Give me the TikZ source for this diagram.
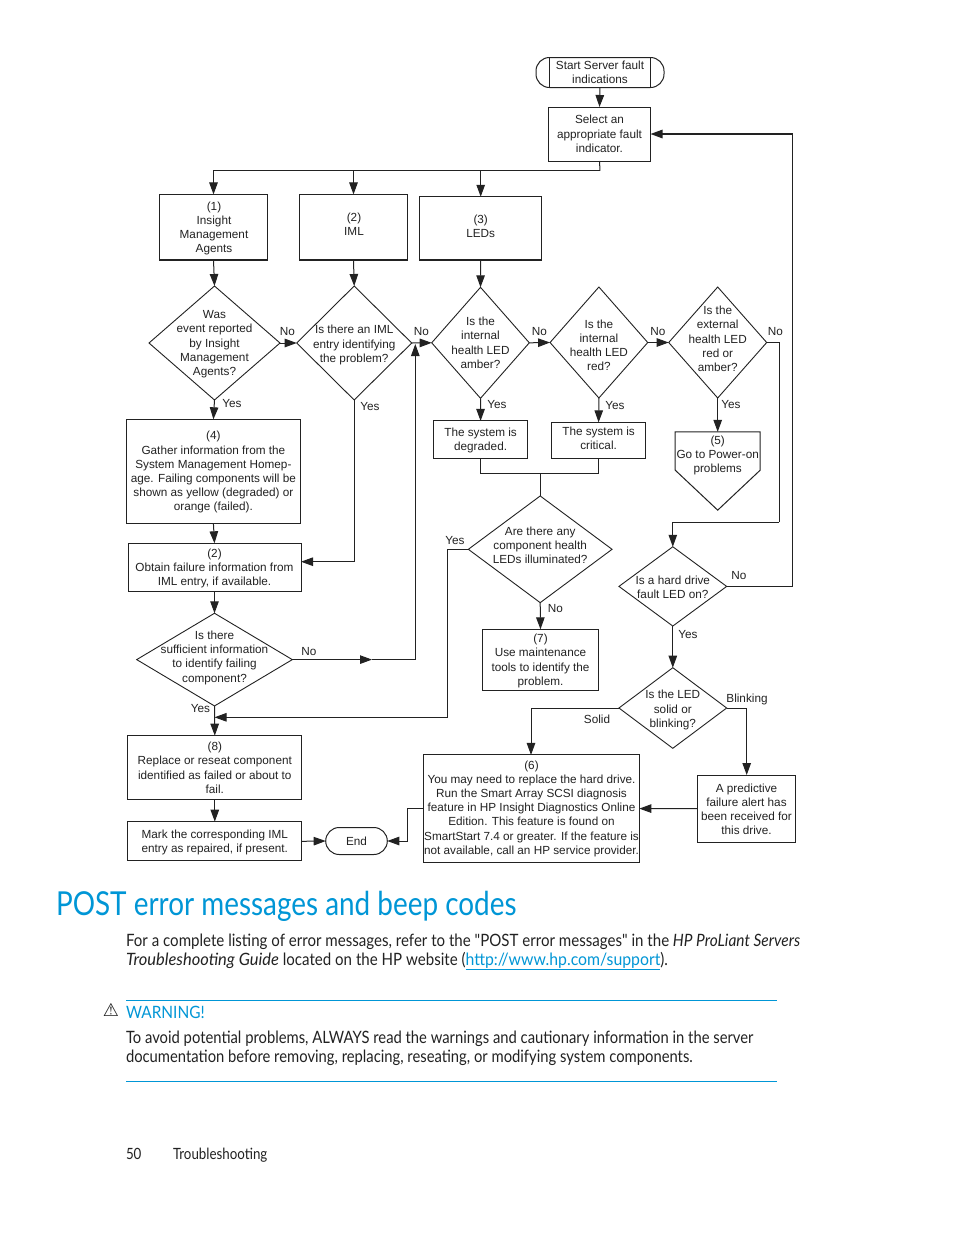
\documentclass[tikz,border=0pt]{standalone}
\usepackage{fontspec}
\usepackage{array}
\usetikzlibrary{shapes.geometric,arrows.meta,calc}
\newfontfamily\fcfont{Liberation Sans}
\newfontfamily\hpA[FakeStretch=0.887,ItalicFeatures={FakeStretch=0.91}]{Lato}
\newfontfamily\hpI[FakeStretch=0.97,ItalicFeatures={FakeStretch=0.97}]{Lato}
\newfontfamily\hpU[FakeStretch=0.93]{Lato}
\newfontfamily\hpW[FakeStretch=0.87]{Lato}
\newfontfamily\hpH[FakeStretch=0.907]{Lato}
\newfontfamily\hpT[FakeStretch=0.845]{Lato}
\newfontfamily\hpF[FakeStretch=0.86]{Lato}
\newfontfamily\symfont{DejaVu Sans}
\definecolor{hpblue}{HTML}{0096D6}
\definecolor{ink}{HTML}{222222}
\newcommand\zt[2][0]{\smash{\raisebox{\dimexpr-4.3pt-#1pt\relax}{\makebox[0pt]{\smash{\begin{tabular}[c]{@{}c@{}}#2\end{tabular}}}}}}
\tikzset{
  every node/.style={inner sep=0pt,outer sep=0pt,text=ink},
  fc/.style={font=\fcfont\fontsize{11.75}{14.2}\selectfont},
  bx/.style={draw=ink,line width=1pt,rectangle,fc},
  hvy/.style={bx,line width=1.3pt},
  term/.style={bx,rounded corners=13.5pt},
  dia/.style={draw=ink,line width=0.9pt,diamond,fc},
  ghost/.style={rectangle,fc},
  lab/.style={fc},
  wire/.style={draw=ink,line width=1pt},
  arr/.style={wire,-{Triangle[length=12pt,width=8.5pt]}},
}
\begin{document}
\begin{tikzpicture}[x=1pt,y=-1pt]
\useasboundingbox (0,0) rectangle (954,1235);
\fill[white] (0,0) rectangle (954,1235);
% process boxes
\node[term,minimum width=128,minimum height=30] (start) at (600,72.5) {\zt{Start Server fault\\indications}};
\draw[wire] ($(start.north west)+(13,0)$) -- ($(start.south west)+(13,0)$);
\draw[wire] ($(start.north east)+(-14,0)$) -- ($(start.south east)+(-14,0)$);
\node[bx,minimum width=102,minimum height=54] (select) at (599.5,134) {\zt{Select an\\appropriate fault\\indicator.}};
\node[hvy,minimum width=108,minimum height=65.5] (b1) at (213.5,227.2) {\hspace{1pt}\zt{(1)\\Insight\\Management\\Agents}};
\node[hvy,minimum width=108,minimum height=65.5] (b2) at (353.5,227.2) {\hspace{1pt}\zt[-3]{(2)\\IML}};
\node[hvy,minimum width=122,minimum height=63.3] (b3) at (480.7,228.4) {\zt[-2]{(3)\\LEDs}};
\node[bx,minimum width=173.3,minimum height=104] (b4) at (213.4,471.3) {\zt{(4)\\Gather information from the\\System Management Homep-\\age. Failing components will be\\shown as yellow (degraded) or\\orange (failed).}};
\node[bx,minimum width=94.7,minimum height=37.5] (deg) at (480.6,439.7) {\zt{The system is\\degraded.}};
\node[bx,minimum width=94.7,minimum height=36] (crit) at (598.6,440.3) {\zt[-2]{The system is\\critical.}};
\node[ghost,minimum width=85,minimum height=78.3] (off) at (717.7,471) {\zt[-16.5]{(5)\\Go to Power-on\\problems}};
\draw[wire] (off.north west) -- (off.north east) -- ($(off.north east)+(0,38.3)$) -- (off.south) -- ($(off.north west)+(0,38.3)$) -- cycle;
\node[bx,minimum width=173,minimum height=48.4] (b2b) at (214.5,567.5) {\zt{(2)\\Obtain failure information from\\IML entry, if available.}};
\node[bx,minimum width=173.7,minimum height=64.3] (b8) at (214.8,767.8) {\zt{(8)\\Replace or reseat component\\identified as failed or about to\\fail.}};
\node[bx,minimum width=173.7,minimum height=39.3] (mark) at (214.8,841.3) {\zt{Mark the corresponding IML\\entry as repaired, if present.}};
\node[term,minimum width=61.6,minimum height=27] (endn) at (356.5,841) {\zt{End}};
\node[bx,minimum width=116.4,minimum height=61] (b7) at (540.5,659.8) {\zt{(7)\\Use maintenance\\tools to identify the\\problem.}};
\node[bx,minimum width=215.6,minimum height=107.3] (b6) at (531.5,808.6) {\zt[-1]{(6)\\You may need to replace the hard drive.\\Run the Smart Array SCSI diagnosis\\feature in HP Insight Diagnostics Online\\Edition. This feature is found on\\SmartStart 7.4 or greater. If the feature is\\not available, call an HP service provider.}};
\node[bx,minimum width=97.6,minimum height=67] (pred) at (746.5,808.5) {\zt[1]{A predictive\\failure alert has\\been received for\\this drive.}};
% decisions
\node[dia,minimum width=131,minimum height=114] (d1) at (214.5,343) {\zt{Was\\event reported\\by Insight\\Management\\Agents?}};
\node[dia,minimum width=115,minimum height=114] (d2) at (354.2,343) {\zt[1]{Is there an IML\\entry identifying\\the problem?}};
\node[dia,minimum width=97.6,minimum height=111] (d3) at (480.5,342.8) {\zt{Is the\\internal\\health LED\\amber?}};
\node[dia,minimum width=97.7,minimum height=111] (d4) at (598.9,342.5) {\zt[3]{Is the\\internal\\health LED\\red?}};
\node[dia,minimum width=98,minimum height=111] (d5) at (717.7,342.5) {\zt[-3.5]{Is the\\external\\health LED\\red or\\amber?}};
\node[dia,minimum width=143.7,minimum height=106.7] (d6) at (540.2,549.3) {\zt[-4]{Are there any\\component health\\LEDs illuminated?}};
\node[dia,minimum width=107.7,minimum height=79.3] (d7) at (672.8,586.4) {\zt[1]{Is a hard drive\\fault LED on?}};
\node[dia,minimum width=107.7,minimum height=80.6] (d8) at (672.8,708) {\zt[1]{Is the LED\\solid or\\blinking?}};
\node[dia,minimum width=155.6,minimum height=92.7] (d9) at (214.5,659.6) {\zt[-3]{Is there\\sufficient information\\to identify failing\\component?}};
% labels
\node[lab] (l1) at (287.5,332) {No};
\node[lab] (l2) at (421.5,332) {No};
\node[lab] (l3) at (539.5,332) {No};
\node[lab] (l4) at (658,332) {No};
\node[lab] (l5) at (775.5,332) {No};
\node[lab] (y1) at (232,403.5) {Yes};
\node[lab] (y2) at (370,407) {Yes};
\node[lab] (y3) at (497,404.5) {Yes};
\node[lab] (y4) at (615,405.5) {Yes};
\node[lab] (y5) at (731,405) {Yes};
\node[lab] (y6) at (455,540.5) {Yes};
\node[lab] (l6) at (555.5,609) {No};
\node[lab] (l7) at (739,576) {No};
\node[lab] (y7) at (688,634.5) {Yes};
\node[lab] (bl) at (747,699.5) {Blinking};
\node[lab] (so) at (597,719) {Solid};
\node[lab] (l9) at (309,652) {No};
\node[lab] (y9) at (200.5,709) {Yes};
% corner coordinates
\coordinate (bus) at (600,170.7);
\coordinate (mergea) at (540.2,473.3);
\coordinate (c5) at (779,522.3);
\coordinate (c7) at (792.3,134);
\coordinate (c9a) at (372,659.6);
\coordinate (c9b) at (415.3,659.6);
\coordinate (c9c) at (415.3,344);
\coordinate (c6) at (447.7,717.3);
\coordinate (j9) at (214.5,717.3);
\coordinate (c2) at (354.2,561.7);
\coordinate (b2in) at (301,561.7);
\coordinate (c8) at (531,708);
\coordinate (c8r) at (746.7,708);
\coordinate (c3) at (407.3,841);
% connectors
\draw[arr] (start.south) -- (select.north);
\draw[wire] (select.south) -- (bus);
\draw[arr] (bus) -| (b1.north);
\draw[arr] (bus) -| (b2.north);
\draw[arr] (bus) -| (b3.north);
\draw[arr] (b1.south) -- (d1.north);
\draw[arr] (b2.south) -- (d2.north);
\draw[arr] (b3.south) -- (d3.north);
\draw[arr] (d1.east) -- (d2.west);
\draw[arr] (d2.east) -- (d3.west);
\draw[arr] (d3.east) -- (d4.west);
\draw[arr] (d4.east) -- (d5.west);
\draw[arr] (d1.south) -- (b4.north);
\draw[arr] (d3.south) -- (deg.north);
\draw[arr] (d4.south) -- (crit.north);
\draw[arr] (d5.south) -- (off.north);
\draw[wire] (deg.south) |- (mergea) -| (crit.south);
\draw[wire,line width=1.3pt] (mergea) -- (d6.north);
\draw[arr] (d2.south) -- (c2) -- (b2in);
\draw[arr] (b4.south) -- (b2b.north);
\draw[arr] (b2b.south) -- (d9.north);
\draw[arr] (d9.east) -- (c9a);
\draw[wire] (c9a) -- (c9b);
\draw[arr] (c9b) -- (c9c);
\draw[arr] (d9.south) -- (b8.north);
\draw[arr] (d6.west) -| (c6) -- (j9);
\draw[arr] (d6.south) -- (b7.north);
\draw[arr] (b8.south) -- (mark.north);
\draw[arr] (mark.east) -- (endn.west);
\draw[wire] (d5.east) -| (c5);
\draw[arr] (c5) -| (d7.north);
\draw[arr,line width=1.3pt] (d7.east) -| (c7) -- (select.east);
\draw[arr] (d7.south) -- (d8.north);
\draw[arr] (d8.west) -- (c8) -- (b6.north -| c8);
\draw[arr] (d8.east) -- (c8r) -- (pred.north -| c8r);
\draw[arr] (pred.west) -- (b6.east);
\draw[arr] (b6.west) -| (c3) -- (endn.east);
% page text
\node[anchor=base west,text=hpblue,font=\hpT\fontsize{33}{36}\selectfont] (title) at (56,915) {POST error messages and beep codes};
\node[anchor=north west,align=left,font=\hpA\fontsize{17}{19}\selectfont] (para) at (126,933.5) {For a complete listing of error messages, refer to the "POST error messages" in the \textit{HP ProLiant Servers}\\{\hpI\itshape Troubleshooting Guide} located on the HP website ({\hpU\color{hpblue}\underline{http://www.hp.com/support}}).};
\draw[hpblue,line width=1pt] (126,1000.5) -- (777,1000.5);
\node[anchor=base,font=\symfont\fontsize{18}{19}\selectfont] (warnicon) at (111,1016) {⚠};
\node[anchor=base west,text=hpblue,font=\hpH\fontsize{17}{19}\selectfont] (warn) at (126,1018) {WARNING!};
\node[anchor=north west,align=left,font=\hpW\fontsize{17}{19}\selectfont] (wtext) at (126,1030.5) {To avoid potential problems, ALWAYS read the warnings and cautionary information in the server\\documentation before removing, replacing, reseating, or modifying system components.};
\draw[hpblue,line width=1pt] (126,1081.5) -- (777,1081.5);
\node[anchor=base west,font=\hpF\fontsize{15.5}{19}\selectfont] (pg) at (126,1159) {50};
\node[anchor=base west,font=\hpF\fontsize{15.5}{19}\selectfont] (ft) at (173,1159) {Troubleshooting};
\end{tikzpicture}
\end{document}
